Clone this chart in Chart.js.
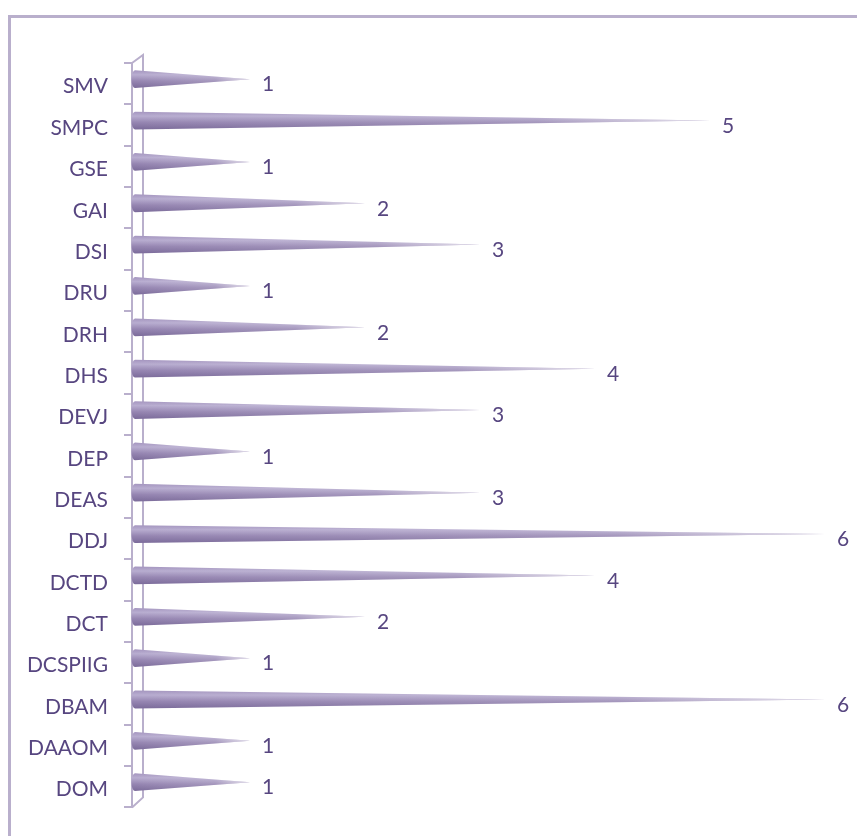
<!DOCTYPE html>
<html>
<head>
<meta charset="utf-8">
<script src="https://cdn.jsdelivr.net/npm/chart.js@4"></script>
<style>
  html, body { margin: 0; padding: 0; background: #fff; overflow: hidden; }
  #frame { position: absolute; left: 8px; top: 15px; width: 1000px; height: 1000px;
           border-top: 3px solid #b9afcc; border-left: 3px solid #b9afcc; }
  #wrap { position: absolute; left: 0; top: 0; width: 857px; height: 836px; }
</style>
</head>
<body>
<div id="frame"></div>
<div id="wrap"><canvas id="chart"></canvas></div>
<script>
const categories = ["SMV", "SMPC", "GSE", "GAI", "DSI", "DRU", "DRH", "DHS", "DEVJ",
    "DEP", "DEAS", "DDJ", "DCTD", "DCT", "DCSPIIG", "DBAM", "DAAOM", "DOM"];
const counts = [1, 5, 1, 2, 3, 1, 2, 4, 3, 1, 3, 6, 4, 2, 1, 6, 1, 1];

const lineColor = "#b9afcc";
const textColor = "#574680";

// draws each bar as a cone, plus the 3D wall lines and the value labels
const conePlugin = {
    id: "cones",
    afterDatasetsDraw(chart) {
        const ctx = chart.ctx;
        const area = chart.chartArea;
        const dx = 3, dy = -4.5;

        ctx.save();
        ctx.strokeStyle = lineColor;
        ctx.lineWidth = 2;
        ctx.beginPath();
        ctx.moveTo(area.left, area.top);
        ctx.lineTo(area.left + 11, area.top - 8);
        ctx.lineTo(area.left + 11, area.bottom - 10);
        ctx.lineTo(area.left, area.bottom);
        ctx.stroke();

        const meta = chart.getDatasetMeta(0);
        meta.data.forEach((bar, i) => {
            const p = bar.getProps(["x", "y", "base", "height"], true);
            const x0 = p.base + dx, x1 = p.x + dx, yc = p.y + dy, h = p.height / 2;

            const cone = () => {
                ctx.beginPath();
                ctx.moveTo(x0, yc - h);
                ctx.lineTo(x1, yc);
                ctx.lineTo(x0, yc + h);
                ctx.ellipse(x0, yc, 3.5, h, 0, Math.PI / 2, Math.PI * 1.5);
                ctx.closePath();
            };

            const vg = ctx.createLinearGradient(0, yc - h, 0, yc + h);
            vg.addColorStop(0, "#a495bf");
            vg.addColorStop(0.25, "#b8add0");
            vg.addColorStop(0.6, "#9686b2");
            vg.addColorStop(1, "#7b6b9a");
            cone();
            ctx.fillStyle = vg;
            ctx.fill();

            const hg = ctx.createLinearGradient(x0, 0, x1, 0);
            hg.addColorStop(0, "rgba(255,255,255,0)");
            hg.addColorStop(0.7, "rgba(255,255,255,0.15)");
            hg.addColorStop(1, "rgba(255,255,255,0.7)");
            cone();
            ctx.fillStyle = hg;
            ctx.fill();

            ctx.fillStyle = textColor;
            ctx.font = "21px Lato";
            ctx.textBaseline = "middle";
            ctx.textAlign = "left";
            ctx.fillText(String(counts[i]), x1 + 12, p.y + 1);
        });
        ctx.restore();
    }
};

new Chart(document.getElementById("chart"), {
    type: "bar",
    data: {
        labels: categories,
        datasets: [{
            data: counts,
            backgroundColor: "rgba(0,0,0,0)",
            borderWidth: 0,
            barPercentage: 0.43,
            categoryPercentage: 1
        }]
    },
    options: {
        indexAxis: "y",
        responsive: true,
        maintainAspectRatio: false,
        animation: false,
        layout: { padding: { left: 0, right: 35, top: 63, bottom: 25 } },
        plugins: { legend: { display: false }, tooltip: { enabled: false } },
        scales: {
            x: { display: false, min: 0, max: 6 },
            y: {
                afterFit: (s) => { s.width = 132; },
                grid: {
                    offset: true,
                    drawOnChartArea: false,
                    tickLength: 8,
                    color: lineColor,
                    lineWidth: 2
                },
                border: { display: true, color: lineColor, width: 2 },
                ticks: {
                    color: textColor,
                    font: { family: "Lato", size: 21 },
                    padding: 16,
                    labelOffset: 3
                }
            }
        }
    },
    plugins: [conePlugin]
});
</script>
</body>
</html>
